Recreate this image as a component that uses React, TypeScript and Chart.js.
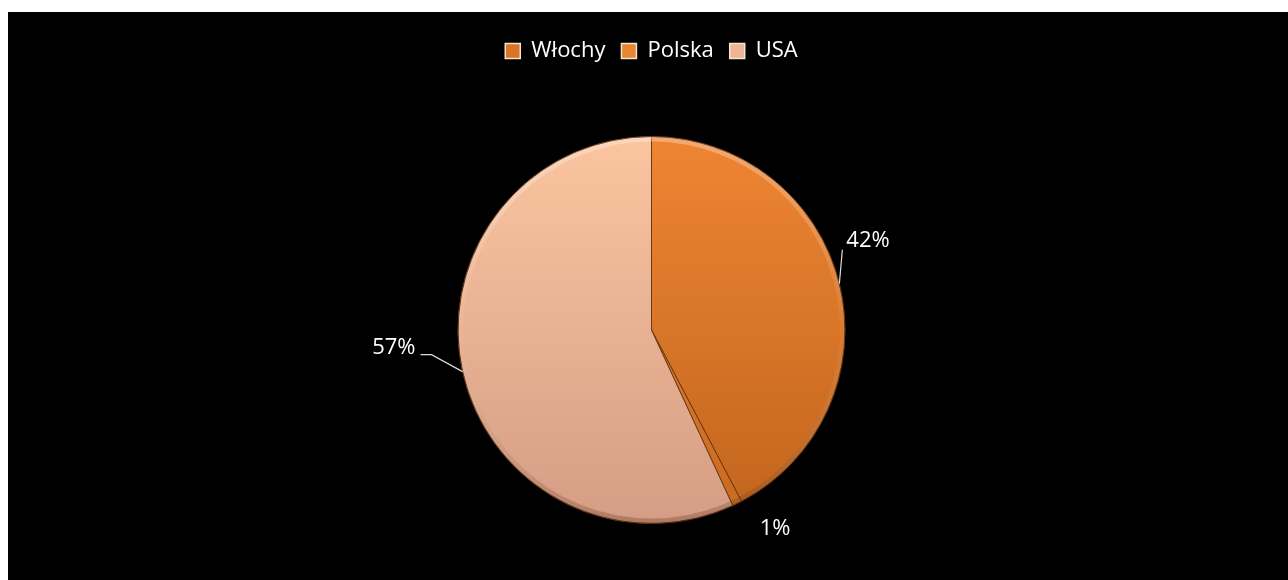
import React, { useEffect, useRef } from "react";
import { Chart, registerables } from "chart.js";

Chart.register(...registerables);

const categories = ["Włochy", "Polska", "USA"];
const values = [42.3, 0.8, 56.9];

const colorsTop = ["#EE8533", "#EF8B36", "#FBC5A0"];
const colorsBottom = ["#C1651D", "#C9691F", "#D59D85"];
const legendColors = ["#D97426", "#E8852F", "#EDB596"];

// label placement relative to the slice's outer mid-point (style only)
const labelStyles = [
  { dx: 7, dy: -43, align: "left", leader: [[0, 0], [3, -34]] },
  { dx: 38, dy: 25, align: "center", leader: [] },
  { dx: -47, dy: -24, align: "right", leader: [[0, 0], [-31, -17], [-42, -17]] },
];

const FONT = "'Open Sans', 'Noto Sans', sans-serif";
const LEGEND_H = 112;

const legendHeightPlugin = {
  id: "legendHeight",
  beforeInit(chart: any) {
    const orig = chart.legend.fit;
    chart.legend.fit = function () {
      orig.bind(this)();
      this.height = LEGEND_H;
    };
  },
};

const bevelPlugin = {
  id: "bevel",
  afterDatasetsDraw(chart: any) {
    const meta = chart.getDatasetMeta(0);
    if (!meta.data.length) return;
    const arc = meta.data[0];
    const { x, y, outerRadius } = arc.getProps(["x", "y", "outerRadius"], true);
    const ctx = chart.ctx;
    ctx.save();
    const g = ctx.createLinearGradient(0, y - outerRadius, 0, y + outerRadius);
    g.addColorStop(0, "rgba(255,255,255,0.30)");
    g.addColorStop(0.5, "rgba(255,255,255,0.04)");
    g.addColorStop(1, "rgba(60,20,0,0.25)");
    ctx.beginPath();
    ctx.arc(x, y, outerRadius - 2.5, 0, Math.PI * 2);
    ctx.lineWidth = 5;
    ctx.strokeStyle = g;
    ctx.stroke();
    ctx.beginPath();
    ctx.arc(x, y, outerRadius, 0, Math.PI * 2);
    ctx.lineWidth = 1;
    ctx.strokeStyle = "rgba(90,45,15,0.6)";
    ctx.stroke();
    ctx.restore();
  },
};

const labelPlugin = {
  id: "pieLabels",
  afterDraw(chart: any) {
    const meta = chart.getDatasetMeta(0);
    const data = chart.data.datasets[0].data as number[];
    const total = data.reduce((a, b) => a + b, 0);
    const ctx = chart.ctx;
    ctx.save();
    ctx.font = `22px ${FONT}`;
    ctx.fillStyle = "#FFFFFF";
    ctx.textBaseline = "middle";
    meta.data.forEach((arc: any, i: number) => {
      const p = arc.getProps(["x", "y", "startAngle", "endAngle", "outerRadius"], true);
      const mid = (p.startAngle + p.endAngle) / 2;
      const ax = p.x + Math.cos(mid) * p.outerRadius;
      const ay = p.y + Math.sin(mid) * p.outerRadius;
      const st = labelStyles[i];
      if (st.leader.length > 1) {
        ctx.beginPath();
        st.leader.forEach((pt: number[], k: number) => {
          if (k === 0) ctx.moveTo(ax + pt[0], ay + pt[1]);
          else ctx.lineTo(ax + pt[0], ay + pt[1]);
        });
        ctx.strokeStyle = "#D9D9D9";
        ctx.lineWidth = 1.2;
        ctx.stroke();
      }
      ctx.textAlign = st.align;
      const pct = Math.round((data[i] / total) * 100) + "%";
      ctx.fillText(pct, ax + st.dx, ay + st.dy);
    });
    ctx.restore();
  },
};

export default function App() {
  const ref = useRef<HTMLCanvasElement>(null);
  useEffect(() => {
    if (!ref.current) return;
    const fill = (c: any) => {
      const i = c.dataIndex ?? 0;
      const ch = c.chart;
      const area = ch.chartArea;
      if (!area) return colorsTop[i];
      const g = ch.ctx.createLinearGradient(0, area.top, 0, area.bottom);
      g.addColorStop(0, colorsTop[i]);
      g.addColorStop(1, colorsBottom[i]);
      return g;
    };
    const chart = new Chart(ref.current, {
      type: "pie",
      data: {
        labels: categories,
        datasets: [
          {
            data: values,
            backgroundColor: fill as any,
            borderColor: "#6B3A14",
            borderWidth: 1,
            hoverOffset: 0,
          },
        ],
      },
      options: {
        animation: false,
        responsive: true,
        maintainAspectRatio: false,
        layout: { padding: { top: 12, bottom: 56, left: 7, right: 0 } },
        plugins: {
          tooltip: { enabled: false },
          legend: {
            position: "top",
            labels: {
              color: "#FFFFFF",
              font: { family: FONT, size: 22 },
              boxWidth: 15,
              boxHeight: 15,
              padding: 16,
              generateLabels: () =>
                categories.map((c, i) => ({
                  text: c,
                  fillStyle: legendColors[i],
                  strokeStyle: "#F4E4D0",
                  lineWidth: 1.5,
                  fontColor: "#FFFFFF",
                  hidden: false,
                  index: i,
                  datasetIndex: 0,
                })),
            },
          },
        },
      },
      plugins: [legendHeightPlugin, bevelPlugin, labelPlugin],
    });
    return () => chart.destroy();
  }, []);
  return (
    <div
      style={{
        position: "fixed",
        left: 8,
        top: 12,
        width: 1280,
        height: 568,
        background: "#000000",
      }}
    >
      <canvas ref={ref} />
    </div>
  );
}
